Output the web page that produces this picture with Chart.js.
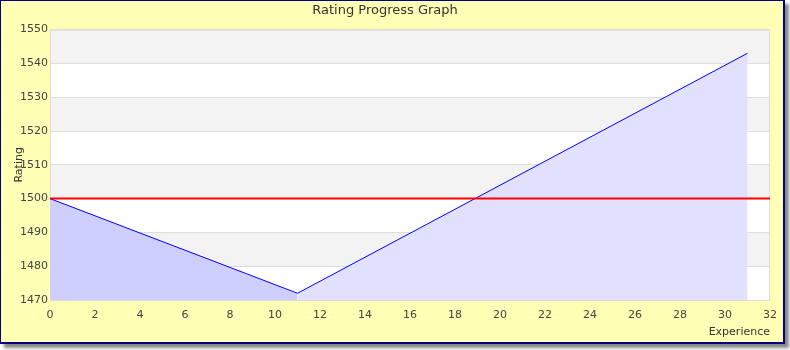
<!DOCTYPE html>
<html lang="en">
<head>
    <meta charset="UTF-8">
    <title>Rating Progress Graph</title>
    <script src="https://cdn.jsdelivr.net/npm/chart.js"></script>
    <style>
        body { margin: 0; background: #fff; font-family: "DejaVu Sans", sans-serif; }
        #frame {
            position: absolute; left: 0; top: 0;
            width: 785px; height: 344px; box-sizing: border-box;
            background: #ffffb5;
            border: solid #000080; border-width: 1px 2px 2px 1px;
            box-shadow: 4px 4px 3px #888;
        }
        #chart-container { position: absolute; left: 0; top: 0; width: 790px; height: 350px; }
    </style>
</head>
<body>
    <div id="frame"></div>
    <div id="chart-container">
        <canvas id="ratingChart" width="790" height="350"></canvas>
    </div>

    <script>
        // values
        const experience = [0, 11, 31];
        const rating = [1500, 1472, 1543];
        const baseRating = 1500;
        const baseLineX = [0, 32];

        const xTicks = { min: 0, max: 32, step: 2 };
        const yTicks = { min: 1470, max: 1550, step: 10 };

        const toPoints = (xs, ys) => xs.map((x, i) => ({ x: x, y: ys[i] }));
        const allPoints = toPoints(experience, rating);
        const lossPart = allPoints.slice(0, 2);   // going down
        const gainPart = allPoints.slice(1);      // going up

        // alternating bands + plot frame
        const plotBackground = {
            id: 'plotBackground',
            beforeDraw(chart) {
                const { ctx, chartArea: a, scales: { y } } = chart;
                ctx.save();
                ctx.fillStyle = '#ffffff';
                ctx.fillRect(a.left, a.top, a.right - a.left, a.bottom - a.top);
                let n = 0;
                for (let v = yTicks.max; v > yTicks.min; v -= yTicks.step) {
                    if (n % 2 === 0) {
                        const top = y.getPixelForValue(v);
                        const bot = y.getPixelForValue(v - yTicks.step);
                        ctx.fillStyle = '#f3f3f3';
                        ctx.fillRect(a.left, top, a.right - a.left, bot - top);
                    }
                    n++;
                }
                ctx.restore();
            },
            beforeDatasetsDraw(chart) {
                const { ctx, chartArea: a } = chart;
                ctx.save();
                ctx.strokeStyle = '#dddddd';
                ctx.lineWidth = 1;
                ctx.strokeRect(a.left + 0.5, a.top + 0.5, a.right - a.left - 1, a.bottom - a.top);
                ctx.restore();
            }
        };

        const tickFont = { family: 'DejaVu Sans', size: 11 };
        const plain = v => String(v);

        const ctx = document.getElementById('ratingChart').getContext('2d');
        new Chart(ctx, {
            type: 'line',
            data: {
                datasets: [
                    {
                        data: toPoints(baseLineX, [baseRating, baseRating]),
                        borderColor: '#ff0000',
                        borderWidth: 2,
                        pointRadius: 0,
                        fill: false
                    },
                    {
                        data: lossPart,
                        borderColor: '#0000ff',
                        borderWidth: 1,
                        backgroundColor: '#cfcfff',
                        pointRadius: 0,
                        fill: 'start'
                    },
                    {
                        data: gainPart,
                        borderColor: '#0000ff',
                        borderWidth: 1,
                        backgroundColor: '#e1e1ff',
                        pointRadius: 0,
                        fill: 'start'
                    }
                ]
            },
            options: {
                responsive: false,
                animation: false,
                layout: { padding: { left: 0, right: 20, top: 0, bottom: 0 } },
                scales: {
                    x: {
                        type: 'linear',
                        min: xTicks.min,
                        max: xTicks.max,
                        grid: { display: false, drawTicks: false },
                        border: { display: false },
                        ticks: {
                            stepSize: xTicks.step, autoSkip: false, maxRotation: 0,
                            padding: 9, color: '#444', font: tickFont, callback: plain
                        },
                        title: {
                            display: true, text: 'Experience', align: 'end',
                            color: '#333', font: tickFont,
                            padding: { top: 0, bottom: 11 }
                        },
                        afterFit(scale) { scale.height = 50; }
                    },
                    y: {
                        min: yTicks.min,
                        max: yTicks.max,
                        grid: { color: '#dddddd', drawTicks: false },
                        border: { display: false },
                        ticks: {
                            stepSize: yTicks.step, padding: 2, color: '#444',
                            font: tickFont, callback: plain
                        },
                        title: {
                            display: true, text: 'Rating',
                            color: '#333', font: tickFont,
                            padding: { top: 13, bottom: 0 }
                        },
                        afterFit(scale) { scale.width = 50; }
                    }
                },
                plugins: {
                    legend: { display: false },
                    tooltip: { enabled: false },
                    title: {
                        display: true,
                        text: 'Rating Progress Graph',
                        color: '#333',
                        font: { family: 'DejaVu Sans', size: 13, weight: 'normal' },
                        padding: { top: 3, bottom: 11 }
                    }
                }
            },
            plugins: [plotBackground]
        });
    </script>
</body>
</html>
